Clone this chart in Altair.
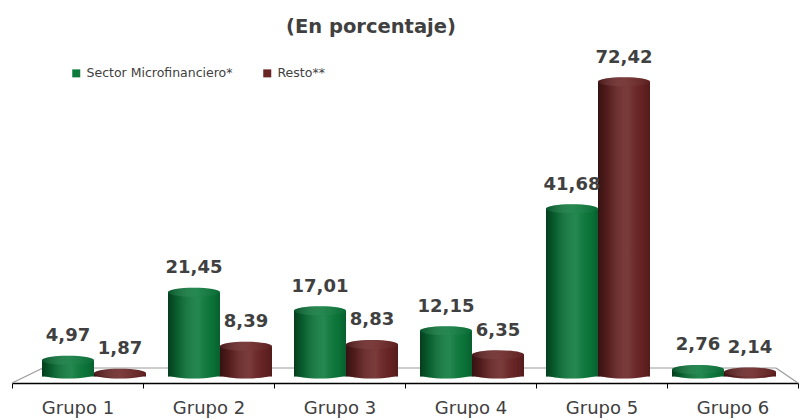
import altair as alt
import pandas as pd

# ---- data -------------------------------------------------------------
grupos = ["Grupo 1", "Grupo 2", "Grupo 3", "Grupo 4", "Grupo 5", "Grupo 6"]
series = ["Sector Microfinanciero*", "Resto**"]
microfinanciero = [4.97, 21.45, 17.01, 12.15, 41.68, 2.76]
resto = [1.87, 8.39, 8.83, 6.35, 72.42, 2.14]
colores = ["#0b7a3b", "#6b2424"]

rows = []
for g, m, r in zip(grupos, microfinanciero, resto):
    rows.append({"grupo": g, "serie": series[0], "valor": m})
    rows.append({"grupo": g, "serie": series[1], "valor": r})
df = pd.DataFrame(rows)

# ---- geometry / style ---------------------------------------------------
W, H = 786, 337
Y_MIN, Y_MAX = -1.6, 80
PX_PER_UNIT = H / (Y_MAX - Y_MIN)
BAR_W = 52                     # width of one cylinder
CAP_HALF = 4.5                 # half height of the ellipses, px
R = BAR_W / 2
b = CAP_HALF / R
cap_units = CAP_HALF / PX_PER_UNIT

# ellipse whose top edge sits on the anchor point (top of cylinder)
top_cap = f"M-1,{b:.3f}A1,{b:.3f},0,1,0,1,{b:.3f}A1,{b:.3f},0,1,0,-1,{b:.3f}Z"
# ellipse slightly above the baseline (bottom of cylinder)
c0 = -2.4 / R
bottom_cap = f"M-1,{c0:.3f}A1,{b:.3f},0,1,0,1,{c0:.3f}A1,{b:.3f},0,1,0,-1,{c0:.3f}Z"

FONT = "DejaVu Sans"
TXT = "#404040"

shade = {
    "gradient": "linear", "x1": 0, "x2": 1, "y1": 0, "y2": 0,
    "stops": [
        {"offset": 0.0, "color": "rgba(0,0,0,0.50)"},
        {"offset": 0.18, "color": "rgba(0,0,0,0.22)"},
        {"offset": 0.58, "color": "rgba(255,255,255,0.10)"},
        {"offset": 0.85, "color": "rgba(0,0,0,0.06)"},
        {"offset": 1.0, "color": "rgba(0,0,0,0.22)"},
    ],
}
cap_shade = {
    "gradient": "linear", "x1": 0, "x2": 1, "y1": 0, "y2": 0,
    "stops": [
        {"offset": 0.0, "color": "rgba(0,0,0,0.32)"},
        {"offset": 0.55, "color": "rgba(255,255,255,0.10)"},
        {"offset": 1.0, "color": "rgba(0,0,0,0.12)"},
    ],
}

legend = alt.Legend(
    title=None, orient="none", legendX=58, legendY=21, direction="horizontal",
    symbolType="square", symbolSize=64, symbolStrokeWidth=0, labelFont=FONT,
    labelFontSize=12.5, labelColor=TXT, labelOffset=4, columnPadding=28, padding=0,
)

x_bars = alt.X(
    "grupo:N", sort=grupos, axis=None,
    scale=alt.Scale(range=[19, 775], paddingInner=22 / 126, paddingOuter=11 / 126),
)
x_off = alt.XOffset("serie:N", sort=series, scale=alt.Scale(paddingInner=0, paddingOuter=0))
y_scale = alt.Scale(domain=[Y_MIN, Y_MAX], nice=False, zero=False)
color = alt.Color("serie:N", sort=series, scale=alt.Scale(domain=series, range=colores), legend=legend)

base = alt.Chart(df).transform_calculate(
    cuerpo=f"datum.valor - {cap_units:.4f}",
    etiqueta="replace(format(datum.valor, '.2f'), '.', ',')",
)

# cylinder bottom
bottom = base.mark_point(shape=bottom_cap, size=BAR_W ** 2, filled=True, opacity=1, strokeWidth=0).encode(
    x=x_bars, xOffset=x_off, y=alt.Y("base:Q", scale=y_scale, axis=None), color=color
).transform_calculate(base="0")
bottom_sh = base.mark_point(shape=bottom_cap, size=BAR_W ** 2, filled=True, opacity=1, strokeWidth=0, fill=shade).encode(
    x=x_bars, xOffset=x_off, y=alt.Y("base:Q", scale=y_scale, axis=None)
).transform_calculate(base="0")

# cylinder body
body = base.mark_bar(strokeWidth=0).encode(
    x=x_bars, xOffset=x_off,
    y=alt.Y("cuerpo:Q", scale=y_scale, axis=None, stack=None),
    y2=alt.datum(0),
    color=color,
)
body_sh = base.mark_bar(strokeWidth=0, color=shade).encode(
    x=x_bars, xOffset=x_off,
    y=alt.Y("cuerpo:Q", scale=y_scale, axis=None, stack=None),
    y2=alt.datum(0),
)

# cylinder top
top = base.mark_point(shape=top_cap, size=BAR_W ** 2, filled=True, opacity=1, strokeWidth=0).encode(
    x=x_bars, xOffset=x_off, y=alt.Y("valor:Q", scale=y_scale, axis=None), color=color
)
top_sh = base.mark_point(shape=top_cap, size=BAR_W ** 2, filled=True, opacity=1, strokeWidth=0, fill=cap_shade).encode(
    x=x_bars, xOffset=x_off, y=alt.Y("valor:Q", scale=y_scale, axis=None)
)

labels = base.mark_text(
    font=FONT, fontSize=18, fontWeight="bold", color=TXT, baseline="alphabetic", dy=-14.5
).encode(
    x=x_bars, xOffset=x_off, y=alt.Y("valor:Q", scale=y_scale, axis=None), text="etiqueta:N"
)

# floor of the 3D plot
one = pd.DataFrame({"k": [0]})
floor_style = dict(color="#9a9a9a", strokeWidth=1.2)
floor = alt.layer(
    alt.Chart(one).mark_rule(**floor_style).encode(
        x=alt.value(0), y=alt.value(H), x2=alt.value(31), y2=alt.value(H - 15)),
    alt.Chart(one).mark_rule(**floor_style).encode(
        x=alt.value(31), y=alt.value(H - 15), x2=alt.value(764), y2=alt.value(H - 15)),
    alt.Chart(one).mark_rule(**floor_style).encode(
        x=alt.value(764), y=alt.value(H - 15), x2=alt.value(W), y2=alt.value(H)),
)

bars = alt.layer(floor, bottom, bottom_sh, body, body_sh, top, top_sh, labels)

# category axis along the front edge of the floor
axis_layer = alt.Chart(pd.DataFrame({"grupo": grupos})).mark_point(opacity=0).encode(
    x=alt.X(
        "grupo:N", sort=grupos, title=None,
        scale=alt.Scale(paddingInner=0, paddingOuter=0),
        axis=alt.Axis(
            labelAngle=0, labelFont=FONT, labelFontSize=18, labelColor=TXT, labelPadding=11,
            tickSize=5, tickColor="black", tickWidth=1, tickBand="extent",
            domainColor="black", domainWidth=1.5, grid=False,
        ),
    ),
    y=alt.value(H),
)

chart = alt.layer(bars, axis_layer).resolve_scale(x="independent").properties(
    width=W, height=H,
    background="white",
    title=alt.TitleParams(
        "(En porcentaje)", font=FONT, fontSize=19.5, fontWeight="bold", color=TXT,
        anchor="middle", frame="group", dx=-34, dy=21, offset=15, baseline="alphabetic",
    ),
    autosize=alt.AutoSizeParams(type="none"),
    padding={"left": 12, "top": 46, "right": 5, "bottom": 37},
).configure_view(strokeWidth=0)

chart.save("out.html", embed_options={"renderer": "svg", "actions": False})
